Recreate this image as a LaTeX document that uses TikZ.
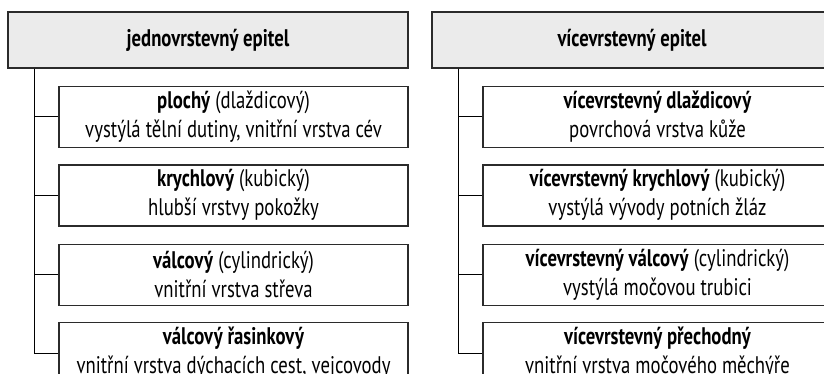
\documentclass[tikz,border=0pt]{standalone}
\usepackage{fontspec}
\setmainfont{PT Sans}[FakeStretch=0.78]
\usepackage{xcolor}
\usepackage{tikz}
\usetikzlibrary{positioning}
\definecolor{fg}{HTML}{2B2B2B}
\definecolor{headfill}{HTML}{EBEBEB}

\tikzset{
  headbox/.style={draw=fg,line width=1.4pt,fill=headfill,minimum width=400pt,
    minimum height=56pt,inner sep=0pt,font=\fontsize{24}{29}\selectfont\bfseries},
  subbox/.style={draw=fg,line width=1.4pt,fill=white,minimum width=349pt,
    minimum height=61pt,inner sep=0pt,align=center,font=\fontsize{24}{29}\selectfont},
  branch/.style={draw=black,line width=1pt}
}

\begin{document}
\begin{tikzpicture}[x=1pt,y=-1pt]
  \useasboundingbox (0,0) rectangle (824,373);

  % jednovrstevny
  \node[headbox] (jedno) at (208,40) {jednovrstevný epitel};
  \node[subbox,below right=17pt and 51pt of jedno.south west] (ploch)
    {\textbf{plochý} (dlaždicový)\\vystýlá tělní dutiny, vnitřní vrstva cév};
  \node[subbox,below=16pt of ploch] (krych)
    {\textbf{krychlový} (kubický)\\hlubší vrstvy pokožky};
  \node[subbox,below=17pt of krych] (valc)
    {\textbf{válcový} (cylindrický)\\vnitřní vrstva střeva};
  \node[subbox,below=16pt of valc] (rasin)
    {\textbf{válcový řasinkový}\\vnitřní vrstva dýchacích cest, vejcovody};
  \coordinate[right=27pt of jedno.south west] (kmenL);
  \foreach \n in {ploch,krych,valc,rasin}
    \draw[branch] (kmenL) |- (\n.west);

  % vicevrstevny
  \node[headbox] (vice) at (632,40) {vícevrstevný epitel};
  \node[subbox,below right=17pt and 51pt of vice.south west] (vdlaz)
    {\textbf{vícevrstevný dlaždicový}\\povrchová vrstva kůže};
  \node[subbox,below=16pt of vdlaz] (vkrych)
    {\textbf{vícevrstevný krychlový} (kubický)\\vystýlá vývody potních žláz};
  \node[subbox,below=17pt of vkrych] (vvalc)
    {\textbf{vícevrstevný válcový} (cylindrický)\\vystýlá močovou trubici};
  \node[subbox,below=16pt of vvalc] (vprech)
    {\textbf{vícevrstevný přechodný}\\vnitřní vrstva močového měchýře};
  \coordinate[right=27pt of vice.south west] (kmenR);
  \foreach \n in {vdlaz,vkrych,vvalc,vprech}
    \draw[branch] (kmenR) |- (\n.west);
\end{tikzpicture}
\end{document}
